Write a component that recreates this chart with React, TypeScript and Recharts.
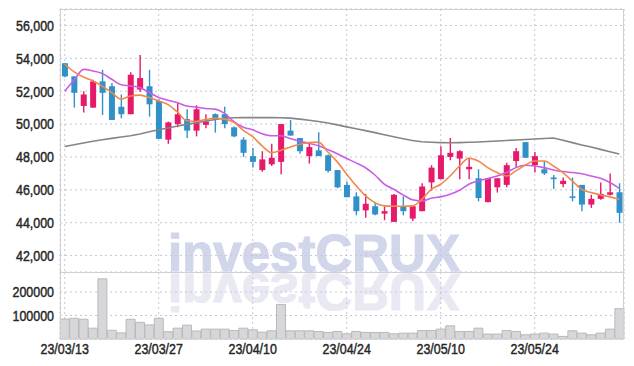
import React from 'react';
import { ComposedChart, Bar, Line, XAxis, YAxis, CartesianGrid } from 'recharts';

const dates = [
  '23/03/13', '23/03/14', '23/03/15', '23/03/16', '23/03/17', '23/03/20', '23/03/21', '23/03/22', '23/03/23', '23/03/24',
  '23/03/27', '23/03/28', '23/03/29', '23/03/30', '23/03/31', '23/04/03', '23/04/04', '23/04/05', '23/04/06', '23/04/07',
  '23/04/10', '23/04/11', '23/04/12', '23/04/13', '23/04/14', '23/04/17', '23/04/18', '23/04/19', '23/04/20', '23/04/21',
  '23/04/24', '23/04/25', '23/04/26', '23/04/27', '23/04/28', '23/05/02', '23/05/03', '23/05/04', '23/05/08', '23/05/09',
  '23/05/10', '23/05/11', '23/05/12', '23/05/15', '23/05/16', '23/05/17', '23/05/18', '23/05/19', '23/05/22', '23/05/23',
  '23/05/24', '23/05/25', '23/05/26', '23/05/30', '23/05/31', '23/06/01', '23/06/02', '23/06/05', '23/06/07', '23/06/08',
];

const tickDates = ['23/03/13', '23/03/27', '23/04/10', '23/04/24', '23/05/10', '23/05/24'];

const opens = [
  53700, 52900, 51100, 51000, 52600, 52300, 51050, 50600, 52100, 52300,
  51400, 49050, 50000, 50300, 49600, 49950, 50600, 50600, 49800, 49050,
  48050, 47200, 47550, 47700, 49600, 49150, 48050, 48400, 48100, 47200,
  46300, 45600, 44750, 45000, 44550, 44050, 45000, 44250, 44700, 46450,
  46650, 48000, 47900, 47250, 46700, 45250, 46150, 46300, 47750, 48900,
  47500, 47250, 46750, 46350, 45600, 46300, 45100, 45450, 45700, 45850,
];
const highs = [
  53700, 52900, 52000, 52700, 53300, 52500, 51800, 53150, 54200, 53300,
  51500, 50150, 51300, 50900, 51150, 50600, 50650, 51050, 49850, 49200,
  48550, 48350, 48800, 50000, 50250, 49150, 48850, 49500, 48150, 47200,
  46500, 45850, 45750, 45200, 45000, 45750, 45600, 45050, 46400, 47500,
  48650, 49150, 48400, 47950, 47250, 46700, 46700, 47650, 48550, 48900,
  48300, 47750, 46900, 46750, 46750, 46300, 45700, 46450, 47000, 46400,
];
const lows = [
  52850, 51000, 50700, 51000, 50550, 50250, 50350, 50600, 51950, 50450,
  49100, 48800, 49800, 49150, 49250, 49750, 49480, 49750, 49200, 48000,
  47350, 47100, 47450, 46950, 49300, 48200, 47600, 48050, 47050, 46100,
  45550, 44450, 44300, 44450, 44150, 44050, 44450, 44100, 44700, 45950,
  46650, 47800, 46650, 46650, 45300, 45250, 45830, 46150, 47350, 47950,
  47050, 46900, 46050, 46150, 45300, 44700, 44900, 45400, 45650, 44000,
];
const closes = [
  52900, 51900, 51800, 52600, 51900, 50250, 50600, 53000, 52800, 51200,
  49100, 50100, 50600, 49600, 50900, 50150, 50350, 50000, 49250, 48250,
  47700, 47850, 47950, 50000, 49300, 48350, 48600, 48050, 47150, 46150,
  45550, 44700, 45150, 44500, 44700, 45700, 44700, 45000, 46200, 47350,
  48100, 48250, 48350, 47400, 45500, 46700, 46700, 47500, 48350, 47950,
  48050, 47000, 46650, 46550, 45550, 45100, 45450, 45750, 45850, 44600,
];

const ma5 = [
  53640, 53180, 52860, 52620, 52310, 51910, 51510, 51710, 51760, 51610,
  51400, 51180, 50720, 50200, 50160, 50280, 50350, 50300, 50100, 49620,
  49230, 48670, 48260, 48400, 48610, 48770, 48870, 48900, 48300, 47700,
  46950, 46250, 45630, 45220, 45020, 45000, 45000, 45020, 45420, 46030,
  46340, 46840, 47450, 47920, 47750, 47350, 47050, 46840, 47150, 47510,
  47750, 47750, 47450, 47050, 46540, 46030, 45830, 45690, 45570, 45430,
];
const ma10 = [
  52000, 52680, 53330, 53230, 53070, 52730, 52390, 52320, 52220, 51920,
  51620, 51450, 51300, 51100, 51030, 50950, 50910, 50650, 50150, 49800,
  49650, 49410, 49290, 49290, 49120, 48950, 48830, 48680, 48440, 48190,
  47900, 47640, 47340, 46900, 46340, 46030, 45690, 45390, 45320, 45490,
  45570, 45730, 45970, 46340, 46540, 46680, 46840, 47050, 47350, 47490,
  47450, 47350, 47210, 47110, 47050, 46980, 46840, 46700, 46440, 46090,
];
const ma60 = [
  48630, 48740, 48850, 48950, 49050, 49130, 49210, 49290, 49400, 49530,
  49650, 49760, 49880, 49980, 50080, 50180, 50280, 50350, 50380, 50390,
  50390, 50390, 50390, 50380, 50360, 50300, 50230, 50160, 50060, 49950,
  49830, 49720, 49600, 49480, 49350, 49230, 49110, 49000, 48920, 48890,
  48870, 48860, 48870, 48890, 48910, 48940, 48970, 49000, 49030, 49060,
  49090, 49120, 49150, 49010, 48870, 48730, 48600, 48460, 48320, 48180,
];

const volumes = [
  85000, 88000, 84000, 46000, 256000, 37000, 26000, 84000, 71000, 60000,
  88000, 31000, 46000, 59000, 34000, 42000, 42000, 42000, 36000, 46000,
  39000, 29000, 35000, 147000, 35000, 35000, 35000, 32000, 28000, 32000,
  22000, 32000, 28000, 28000, 28000, 22000, 25000, 25000, 36000, 36000,
  42000, 56000, 32000, 32000, 46000, 21000, 21000, 36000, 32000, 18000,
  21000, 25000, 21000, 11000, 35000, 25000, 18000, 25000, 42000, 129000,
];

const priceTicks = [42000, 44000, 46000, 48000, 50000, 52000, 54000, 56000];
const volumeTicks = [100000, 200000];

const UP = '#e6196b';
const DOWN = '#2f91c8';
const FONT = "'Liberation Sans', Arial, sans-serif";

const data = dates.map((date, i) => ({
  date,
  open: opens[i],
  high: highs[i],
  low: lows[i],
  close: closes[i],
  range: [lows[i], highs[i]],
  ma5: ma5[i],
  ma10: ma10[i],
  ma60: ma60[i],
  volume: volumes[i],
}));

// candle drawn inside the [low, high] bar that recharts lays out
const Candle = (props: any) => {
  const { x, y, width, height, payload } = props;
  if (!payload) return null;
  const { open, close, high, low } = payload;
  const color = close >= open ? UP : DOWN;
  const h = Math.abs(height);
  const top0 = height < 0 ? y + height : y;
  const k = h / (high - low);
  const cx = x + width / 2;
  const yOf = (v: number) => top0 + (high - v) * k;
  const bTop = yOf(Math.max(open, close));
  const bBot = yOf(Math.min(open, close));
  const bw = 6;
  return (
    <g>
      <line x1={cx} x2={cx} y1={top0} y2={top0 + h} stroke={color} strokeWidth={1.4} />
      <rect x={cx - bw / 2} y={bTop} width={bw} height={Math.max(bBot - bTop, 1.5)} fill={color} />
    </g>
  );
};

// narrow-looking tick text (no condensed font installed, so squeeze it)
const NarrowTick = (props: any) => {
  const { x, y, payload, textAnchor, fmt, dy } = props;
  const label = fmt ? fmt(payload.value) : payload.value;
  return (
    <text transform={`translate(${x},${y}) scale(0.83,1)`} textAnchor={textAnchor} dy={dy}
      fontFamily={FONT} fontSize={15} fill="#262626" stroke="#262626" strokeWidth={0.45}>
      {label}
    </text>
  );
};

const fmtPrice = (v: number) => v.toLocaleString('en-US');

export default function App() {
  return (
    <div style={{ position: 'absolute', left: 0, top: 0, width: 634, height: 366, background: '#fff' }}>
      <svg width={634} height={366} style={{ position: 'absolute', left: 0, top: 0 }}>
        <text x={314} y={271} textAnchor="middle" fontFamily={FONT}
          fontWeight="bold" fontSize={51} fill="#d1d6ea" stroke="#d1d6ea" strokeWidth={1.2}>investCRUX</text>
        <g transform="translate(0,545) scale(1,-1)">
          <text x={314} y={271} textAnchor="middle" fontFamily={FONT}
            fontWeight="bold" fontSize={51} fill="#e8e9f2" stroke="#e8e9f2" strokeWidth={1.2}>investCRUX</text>
        </g>
      </svg>
      <div style={{ position: 'absolute', left: 0, top: 0 }}>
        <ComposedChart width={634} height={272} data={data} margin={{ top: 9, right: 10, bottom: 0, left: 0 }}>
          <CartesianGrid stroke="#c6c6dc" strokeDasharray="2 3" />
          <XAxis dataKey="date" hide ticks={tickDates} />
          <YAxis domain={[41000, 57000]} ticks={priceTicks} width={60} axisLine={false} tickLine={false}
            tickSize={0} tickMargin={6} tick={<NarrowTick fmt={fmtPrice} dy="0.36em" />} />
          <Bar dataKey="range" shape={<Candle />} isAnimationActive={false} />
          <Line dataKey="ma60" type="linear" stroke="#858585" strokeWidth={1.6} dot={false} isAnimationActive={false} />
          <Line dataKey="ma10" type="monotone" stroke="#cc5ce8" strokeWidth={1.6} dot={false} isAnimationActive={false} />
          <Line dataKey="ma5" type="monotone" stroke="#f0894c" strokeWidth={1.6} dot={false} isAnimationActive={false} />
        </ComposedChart>
      </div>
      <div style={{ position: 'absolute', left: 0, top: 272 }}>
        <ComposedChart width={634} height={94} data={data} margin={{ top: 0, right: 10, bottom: 0, left: 0 }}
          barCategoryGap="3%">
          <CartesianGrid stroke="#c6c6dc" strokeDasharray="2 3" />
          <XAxis dataKey="date" ticks={tickDates} height={27} axisLine={false} tickLine={false}
            tickSize={0} tickMargin={4} tick={<NarrowTick dy="0.75em" />} />
          <YAxis domain={[0, 285000]} ticks={volumeTicks} width={60} axisLine={false} tickLine={false}
            tickSize={0} tickMargin={6} tick={<NarrowTick dy="0.36em" />} />
          <Bar dataKey="volume" fill="#d7d7d9" stroke="#b9b9bd" strokeWidth={1} isAnimationActive={false} />
        </ComposedChart>
      </div>
      <div style={{ position: 'absolute', left: 60, top: 9, width: 564, height: 330, boxSizing: 'border-box',
        border: '1px solid #d0d0d4', pointerEvents: 'none' }} />
      <div style={{ position: 'absolute', left: 60, top: 272, width: 564, height: 1, background: '#d0d0d4' }} />
    </div>
  );
}
